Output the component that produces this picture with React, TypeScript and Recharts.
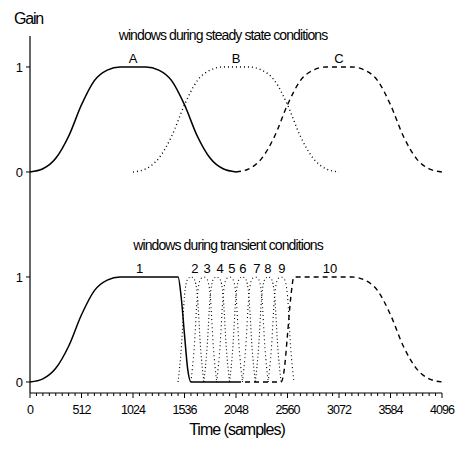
import { Line, LineChart, ReferenceDot, XAxis, YAxis } from "recharts";

// long window shape (samples from window start)
const longTime = [0, 128, 256, 384, 512, 640, 768, 896, 1024, 1152, 1280, 1408, 1536, 1664, 1792, 1920, 2048];
const longGain = [0, 0.03, 0.13, 0.34, 0.64, 0.87, 0.97, 1, 1, 1, 0.97, 0.87, 0.64, 0.34, 0.13, 0.03, 0];

const steadyLabels = ["A", "B", "C"];
const steadyStart = [0, 1024, 2048];

// window 1 (long start)
const startTime = [0, 128, 256, 384, 512, 640, 768, 896, 1024, 1472, 1504, 1536, 1568, 1600, 2048];
const startGain = [0, 0.03, 0.13, 0.34, 0.64, 0.87, 0.97, 1, 1, 1, 0.8, 0.45, 0.12, 0, 0];

// windows 2..9 (short)
const shortTime = [0, 32, 64, 96, 128, 160, 192, 224, 256];
const shortGain = [0, 0.32, 0.82, 0.98, 1, 0.98, 0.82, 0.32, 0];
const shortStart = [1472, 1600, 1728, 1856, 1984, 2112, 2240, 2368];

// window 10 (long stop)
const stopTime = [2048, 2496, 2528, 2560, 2592, 2624, 3072, 3200, 3328, 3456, 3584, 3712, 3840, 3968, 4096];
const stopGain = [0, 0, 0.12, 0.45, 0.8, 1, 1, 1, 0.97, 0.87, 0.64, 0.34, 0.13, 0.03, 0];

const transientLabels = ["1", "2", "3", "4", "5", "6", "7", "8", "9", "10"];
const transientLabelTime = [1090, 1640, 1760, 1889, 2008, 2117, 2256, 2366, 2505, 2982];

const majorTicks = [0, 512, 1024, 1536, 2048, 2560, 3072, 3584, 4096];
const xTicks = Array.from({ length: 65 }, (_, i) => i * 64);

const steadyDash = ["0", "1 3", "5 4"];
const shortDash = ["1 2.5", "1 3"];
const FONT = "'Liberation Sans', Arial, sans-serif";

const toPoints = (time: number[], gain: number[], offset = 0) =>
  time.map((t, i) => ({ t: t + offset, g: gain[i] }));

function TimeTick({ x, y, payload }: any) {
  const major = majorTicks.includes(payload.value);
  return (
    <g>
      <line x1={x} x2={x} y1={y} y2={y + (major ? 5 : 3)} stroke="#000" strokeWidth={1} />
      {major && (
        <text x={x} y={y + 21} textAnchor="middle" fontSize={12.5} letterSpacing={-0.9} fill="#000">
          {payload.value}
        </text>
      )}
    </g>
  );
}

const yAxisProps = {
  width: 30,
  ticks: [0, 1],
  tickSize: 4,
  tickMargin: 3,
  axisLine: { stroke: "#000", strokeWidth: 1.2 },
  tickLine: { stroke: "#000" },
  tick: { fill: "#000", fontSize: 13 },
  allowDataOverflow: true,
};

const labelStyle = { fill: "#000", fontSize: 13 };

const titleStyle = {
  position: "absolute" as const,
  width: 300,
  textAlign: "center" as const,
  fontSize: 14,
  letterSpacing: -0.9,
  lineHeight: "16px",
};

export default function App() {
  return (
    <div
      style={{
        position: "absolute",
        left: 0,
        top: 0,
        width: 460,
        height: 452,
        background: "#fff",
        fontFamily: FONT,
        color: "#000",
      }}
    >
      <div style={{ position: "absolute", left: 14, top: 9, fontSize: 16, letterSpacing: -1.2, lineHeight: "20px" }}>
        Gain
      </div>
      <div style={{ ...titleStyle, left: 73, top: 27 }}>windows during steady state conditions</div>
      <div style={{ ...titleStyle, left: 78, top: 237 }}>windows during transient conditions</div>
      <div
        style={{
          position: "absolute",
          left: 137,
          width: 200,
          top: 420,
          textAlign: "center",
          fontSize: 16,
          letterSpacing: -1,
          lineHeight: "20px",
        }}
      >
        Time (samples)
      </div>

      <div style={{ position: "absolute", left: 0, top: 0 }}>
        <LineChart width={460} height={225} margin={{ top: 36, right: 18, bottom: 0, left: 0 }}>
          <XAxis type="number" dataKey="t" domain={[0, 4096]} hide allowDataOverflow />
          <YAxis domain={[-0.505, 1.295]} {...yAxisProps} />
          {steadyStart.map((s, i) => (
            <Line
              key={steadyLabels[i]}
              data={toPoints(longTime, longGain, s)}
              dataKey="g"
              type="monotone"
              stroke="#000"
              strokeWidth={i === 0 ? 1.6 : 1.4}
              strokeDasharray={steadyDash[i]}
              dot={false}
              isAnimationActive={false}
            />
          ))}
          {steadyLabels.map((l, i) => (
            <ReferenceDot
              key={l}
              x={steadyStart[i] + 1024}
              y={1.086}
              r={0}
              fill="none"
              stroke="none"
              label={{ value: l, position: "center", ...labelStyle }}
            />
          ))}
        </LineChart>
      </div>

      <div style={{ position: "absolute", left: 0, top: 225 }}>
        <LineChart width={460} height={227} margin={{ top: 0, right: 18, bottom: 0, left: 0 }}>
          <XAxis
            type="number"
            dataKey="t"
            domain={[0, 4096]}
            ticks={xTicks}
            interval={0}
            height={59}
            tickSize={0}
            tickMargin={0}
            tickLine={false}
            axisLine={{ stroke: "#000", strokeWidth: 1.2 }}
            tick={<TimeTick />}
            allowDataOverflow
          />
          <YAxis domain={[-0.105, 1.495]} {...yAxisProps} />
          <Line
            data={toPoints(startTime, startGain)}
            dataKey="g"
            type="monotone"
            stroke="#000"
            strokeWidth={1.5}
            dot={false}
            isAnimationActive={false}
          />
          {shortStart.map((s, i) => (
            <Line
              key={s}
              data={toPoints(shortTime, shortGain, s)}
              dataKey="g"
              type="monotone"
              stroke="#000"
              strokeWidth={1.1}
              strokeDasharray={shortDash[i % 2]}
              dot={false}
              isAnimationActive={false}
            />
          ))}
          <Line
            data={toPoints(stopTime, stopGain)}
            dataKey="g"
            type="monotone"
            stroke="#000"
            strokeWidth={1.4}
            strokeDasharray="5 4"
            dot={false}
            isAnimationActive={false}
          />
          {transientLabels.map((l, i) => (
            <ReferenceDot
              key={l}
              x={transientLabelTime[i]}
              y={1.086}
              r={0}
              fill="none"
              stroke="none"
              label={{ value: l, position: "center", ...labelStyle }}
            />
          ))}
        </LineChart>
      </div>
    </div>
  );
}
